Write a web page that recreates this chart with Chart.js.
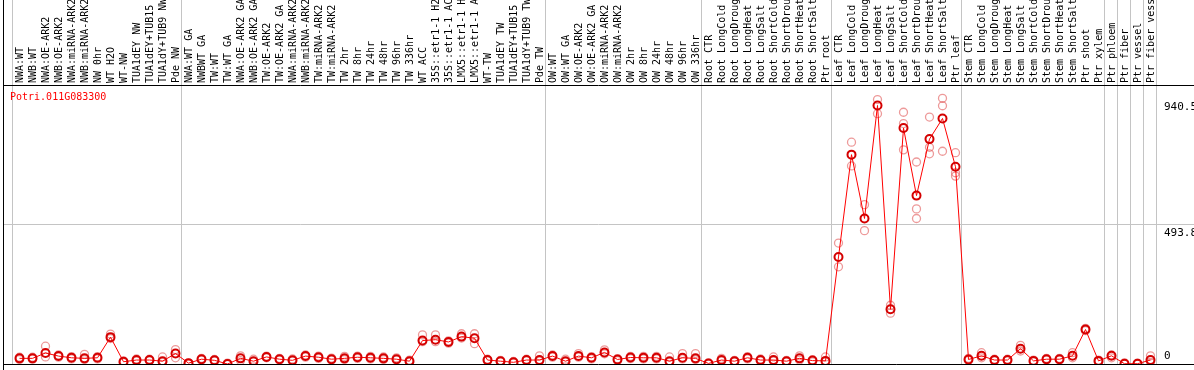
<!DOCTYPE html>
<html>
<head>
<meta charset="utf-8">
<script src="https://cdn.jsdelivr.net/npm/chart.js@4.4.1/dist/chart.umd.min.js"></script>
<style>
  body { margin: 0; background: #fff; }
  canvas { display: block; }
</style>
</head>
<body>
<canvas id="chart" width="1194" height="370"></canvas>
<script>
/* ── Data ── */
const geneName = 'Potri.011G083300';

const samples = [
  'NWA:WT', 'NWB:WT', 'NWA:OE-ARK2', 'NWB:OE-ARK2', 'NWA:miRNA-ARK2', 'NWB:miRNA-ARK2',
  'NW 0hr', 'WT H2O', 'WT-NW', 'TUA1dEY NW', 'TUA1dEY+TUB15 NW', 'TUA1dY+TUB9 NW', 'Pde NW',
  'NWA:WT GA', 'NWBWT GA', 'TW:WT', 'TW:WT GA', 'NWA:OE-ARK2 GA', 'NWB:OE-ARK2 GA',
  'TW:OE-ARK2', 'TW:OE-ARK2 GA', 'NWA:miRNA-ARK2 GA', 'NWB:miRNA-ARK2 GA', 'TW:miRNA-ARK2',
  'TW:miRNA-ARK2 GA', 'TW 2hr', 'TW 8hr', 'TW 24hr', 'TW 48hr', 'TW 96hr', 'TW 336hr', 'WT ACC',
  '35S::etr1-1 H2O', '35S::etr1-1 ACC', 'LMX5::etr1-1 H2O', 'LMX5::etr1-1 ACC', 'WT-TW',
  'TUA1dEY TW', 'TUA1dEY+TUB15 TW', 'TUA1dY+TUB9 TW', 'Pde TW',
  'OW:WT', 'OW:WT GA', 'OW:OE-ARK2', 'OW:OE-ARK2 GA', 'OW:miRNA-ARK2', 'OW:miRNA-ARK2 GA',
  'OW 2hr', 'OW 8hr', 'OW 24hr', 'OW 48hr', 'OW 96hr', 'OW 336hr',
  'Root CTR', 'Root LongCold', 'Root LongDrought', 'Root LongHeat', 'Root LongSalt',
  'Root ShortCold', 'Root ShortDrought', 'Root ShortHeat', 'Root ShortSalt', 'Ptr root',
  'Leaf CTR', 'Leaf LongCold', 'Leaf LongDrought', 'Leaf LongHeat', 'Leaf LongSalt',
  'Leaf ShortCold', 'Leaf ShortDrought', 'Leaf ShortHeat', 'Leaf ShortSalt', 'Ptr leaf',
  'Stem CTR', 'Stem LongCold', 'Stem LongDrought', 'Stem LongHeat', 'Stem LongSalt',
  'Stem ShortCold', 'Stem ShortDrought', 'Stem ShortHeat', 'Stem ShortSalt', 'Ptr shoot', 'Ptr xylem',
  'Ptr phloem', 'Ptr fiber', 'Ptr vessel', 'Ptr fiber vessel'
];

// first sample index of each group (88 closes the last one)
const groupStarts = [0, 13, 41, 53, 63, 73, 84, 85, 86, 87, 88];

const meanValues = [
  20, 20, 39, 28, 22, 20, 22, 95, 8, 14, 14, 10, 37,
  3, 17, 13, 0, 20, 10, 25, 17, 13, 28, 24, 17, 20, 24, 22, 20, 17, 10,
  83, 86, 78, 97, 91, 14, 10, 6, 14, 14,
  28, 10, 28, 22, 41, 16, 23, 22, 22, 10, 22, 20,
  2, 14, 10, 22, 14, 14, 10, 20, 12, 11,
  379, 741, 515, 915, 194, 835, 596, 796, 869, 698,
  16, 29, 14, 14, 54, 11, 17, 17, 29, 122, 11,
  29, 1, 1, 14
];

const replicateA = [
  24, 24, 63, 32, 26, 34, 26, 106, 11, 18, 17, 25, 51,
  3, 20, 16, 3, 29, 17, 28, 20, 18, 32, 28, 21, 27, 28, 27, 25, 22, 14,
  103, 103, 82, 107, 107, 17, 13, 9, 17, 29,
  32, 17, 37, 26, 50, 19, 27, 27, 27, 25, 37, 37,
  4, 20, 13, 26, 18, 25, 13, 29, 15, 25,
  428, 785, 564, 936, 208, 891, 715, 874, 940.5, 748,
  20, 40, 17, 17, 66, 14, 20, 20, 40, 126, 14,
  32, 4, 3, 29
];

const replicateB = [
  16, 17, 25, 24, 18, 16, 18, 90, 5, 10, 11, 6, 22,
  0, 14, 10, 0, 12, 8, 22, 14, 10, 24, 20, 14, 16, 20, 18, 16, 14, 7,
  79, 79, 74, 92, 72, 11, 8, 3, 11, 10,
  24, 7, 24, 18, 36, 12, 19, 18, 18, 6, 18, 16,
  0, 10, 7, 18, 10, 10, 7, 14, 8, 8,
  344, 701, 472, 886, 180, 851, 549, 767, 914, 677,
  13, 22, 11, 11, 46, 8, 14, 14, 22, 118, 8,
  22, 0, 0, 6
];

const replicateC = [
  null, null, null, null, null, null, null, null, null, null, null, null, null,
  null, null, null, null, null, null, null, null, null, null, null, null, null, null, null, null, null, null,
  null, null, null, null, null, null, null, null, null, null,
  null, null, null, null, null, null, null, null, null, null, null, null,
  null, null, null, null, null, null, null, null, null, null,
  null, null, null, null, null, 758, 515, 744, 753, 665,
  null, null, null, null, null, null, null, null, null, null, null,
  null, null, null, null
];

const yMax = 987.5;
const yTicks = [0, 493.8, 940.5];

/* ── Frame, grid and labels ── */
const framePlugin = {
  id: 'frame',
  beforeDatasetsDraw(chart) {
    const { ctx, scales: { x, y }, chartArea: a } = chart;
    const step = x.getPixelForValue(1) - x.getPixelForValue(0);
    ctx.save();
    ctx.strokeStyle = '#c4c4c4';
    ctx.lineWidth = 1;
    groupStarts.forEach(k => {
      const px = Math.round(x.getPixelForValue(0) + step * k - 7.5) + 0.5;
      ctx.beginPath();
      ctx.moveTo(px, 0);
      ctx.lineTo(px, a.bottom);
      ctx.stroke();
    });
    const gy = Math.round(y.getPixelForValue(yTicks[1])) + 0.5;
    ctx.beginPath();
    ctx.moveTo(3, gy);
    ctx.lineTo(chart.width, gy);
    ctx.stroke();
    ctx.restore();
  },
  afterDraw(chart) {
    const { ctx, scales: { x, y }, chartArea: a } = chart;
    ctx.save();
    ctx.strokeStyle = '#000';
    ctx.lineWidth = 1;
    ctx.beginPath();
    ctx.moveTo(3, a.top + 0.5);
    ctx.lineTo(chart.width, a.top + 0.5);
    ctx.moveTo(3, a.bottom + 0.5);
    ctx.lineTo(chart.width, a.bottom + 0.5);
    ctx.moveTo(3.5, 0);
    ctx.lineTo(3.5, chart.height);
    ctx.stroke();

    // sample names, rotated
    ctx.fillStyle = '#000';
    ctx.font = '10px "DejaVu Sans Mono", monospace';
    ctx.textAlign = 'left';
    ctx.textBaseline = 'middle';
    samples.forEach((s, i) => {
      ctx.save();
      ctx.translate(x.getPixelForValue(i) + 0.5, a.top - 2);
      ctx.rotate(-Math.PI / 2);
      ctx.fillText(s, 0, 0);
      ctx.restore();
    });

    // y values on the right
    ctx.font = '11px "DejaVu Sans Mono", monospace';
    yTicks.forEach((v, i) => {
      ctx.textBaseline = i === 0 ? 'bottom' : 'top';
      ctx.fillText(String(v), a.right + 7, y.getPixelForValue(v) + (i === 0 ? -2 : 3));
    });

    // gene id
    ctx.fillStyle = '#ff0000';
    ctx.font = '10px "DejaVu Sans Mono", monospace';
    ctx.textBaseline = 'middle';
    ctx.fillText(geneName, 10, a.top + 12);
    ctx.restore();
  }
};

/* ── Chart ── */
const repStyle = {
  showLine: false,
  pointRadius: 4,
  pointBorderWidth: 1.3,
  pointBorderColor: 'rgba(228,100,100,0.65)',
  pointBackgroundColor: 'rgba(0,0,0,0)'
};

new Chart(document.getElementById('chart'), {
  type: 'line',
  data: {
    labels: samples,
    datasets: [
      {
        label: geneName,
        data: meanValues,
        borderColor: '#ff0000',
        borderWidth: 1,
        tension: 0,
        pointRadius: 4,
        pointBorderWidth: 2,
        pointBorderColor: '#d40000',
        pointBackgroundColor: 'rgba(0,0,0,0)'
      },
      { label: 'rep A', data: replicateA, ...repStyle },
      { label: 'rep B', data: replicateB, ...repStyle },
      { label: 'rep C', data: replicateC, ...repStyle }
    ]
  },
  options: {
    responsive: false,
    animation: false,
    events: [],
    layout: { padding: { left: 13, right: 37, top: 85, bottom: 1 } },
    plugins: { legend: { display: false }, tooltip: { enabled: false } },
    scales: {
      x: { type: 'category', offset: true, display: false },
      y: { min: 0, max: yMax, display: false }
    }
  },
  plugins: [framePlugin]
});
</script>
</body>
</html>
